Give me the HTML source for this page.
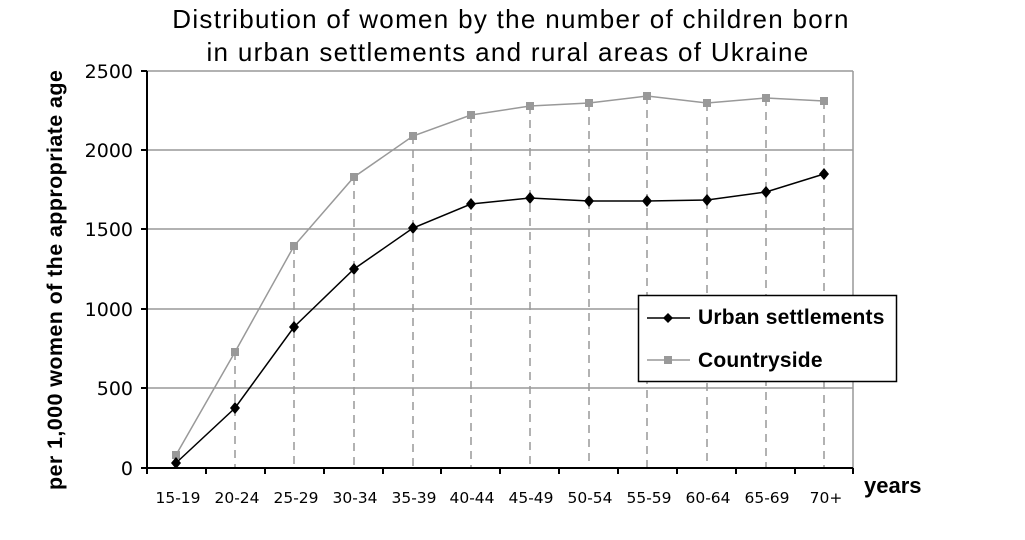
<!DOCTYPE html>
<html><head><meta charset="utf-8"><style>body{margin:0;background:#fff}svg{display:block}</style></head>
<body>
<svg width="1025" height="540" xmlns="http://www.w3.org/2000/svg" font-family="Liberation Sans, sans-serif">
<rect width="1025" height="540" fill="#fff"/>
<text x="511" y="28" font-size="26" letter-spacing="1.3" text-anchor="middle">Distribution of women by the number of children born</text>
<text x="508" y="61" font-size="26" letter-spacing="1.3" text-anchor="middle">in urban settlements and rural areas of Ukraine</text>
<g stroke="#999" stroke-width="1.5">
<line x1="147" y1="71" x2="853" y2="71"/>
<line x1="147" y1="150" x2="853" y2="150"/>
<line x1="147" y1="229" x2="853" y2="229"/>
<line x1="147" y1="309" x2="853" y2="309"/>
<line x1="147" y1="388" x2="853" y2="388"/>
<line x1="853" y1="71" x2="853" y2="468"/>
</g>
<g stroke="#999" stroke-width="1.5" stroke-dasharray="8,6">
<line x1="235" y1="352" x2="235" y2="468"/>
<line x1="294" y1="246" x2="294" y2="468"/>
<line x1="354" y1="177" x2="354" y2="468"/>
<line x1="413" y1="136" x2="413" y2="468"/>
<line x1="471" y1="115" x2="471" y2="468"/>
<line x1="530" y1="106" x2="530" y2="468"/>
<line x1="589" y1="103" x2="589" y2="468"/>
<line x1="647" y1="96" x2="647" y2="468"/>
<line x1="707" y1="103" x2="707" y2="468"/>
<line x1="766" y1="98" x2="766" y2="468"/>
<line x1="824" y1="101" x2="824" y2="468"/>
</g>
<g stroke="#000" stroke-width="2">
<line x1="147" y1="71" x2="147" y2="474"/>
<line x1="141" y1="468" x2="853" y2="468"/>
<line x1="141" y1="71" x2="147" y2="71"/><line x1="141" y1="150" x2="147" y2="150"/><line x1="141" y1="229" x2="147" y2="229"/><line x1="141" y1="309" x2="147" y2="309"/><line x1="141" y1="388" x2="147" y2="388"/>
<line x1="206" y1="468" x2="206" y2="474"/><line x1="265" y1="468" x2="265" y2="474"/><line x1="324" y1="468" x2="324" y2="474"/><line x1="383" y1="468" x2="383" y2="474"/><line x1="441" y1="468" x2="441" y2="474"/><line x1="500" y1="468" x2="500" y2="474"/><line x1="559" y1="468" x2="559" y2="474"/><line x1="618" y1="468" x2="618" y2="474"/><line x1="677" y1="468" x2="677" y2="474"/><line x1="736" y1="468" x2="736" y2="474"/><line x1="795" y1="468" x2="795" y2="474"/><line x1="853" y1="468" x2="853" y2="474"/>
</g>
<g font-size="19" font-family="DejaVu Sans, sans-serif" text-anchor="end">
<text x="133" y="78">2500</text><text x="133" y="157">2000</text><text x="133" y="236">1500</text><text x="133" y="316">1000</text><text x="133" y="395">500</text><text x="133" y="475">0</text>
</g>
<g font-size="15.5" font-family="DejaVu Sans, sans-serif" text-anchor="middle">
<text x="178" y="503">15-19</text><text x="237" y="503">20-24</text><text x="296" y="503">25-29</text><text x="355" y="503">30-34</text><text x="414" y="503">35-39</text><text x="472" y="503">40-44</text><text x="531" y="503">45-49</text><text x="590" y="503">50-54</text><text x="649" y="503">55-59</text><text x="708" y="503">60-64</text><text x="767" y="503">65-69</text><text x="826" y="503">70+</text>
</g>
<text x="864" y="493" font-size="22" font-weight="bold">years</text>
<text transform="translate(62,490) rotate(-90)" font-size="21.5" font-weight="bold" letter-spacing="0.4">per 1,000 women of the appropriate age</text>
<polyline fill="none" stroke="#999" stroke-width="1.5" points="176,455 235,352 294,246 354,177 413,136 471,115 530,106 589,103 647,96 707,103 766,98 824,101"/>
<g fill="#999">
<rect x="172" y="451" width="8" height="8"/><rect x="231" y="348" width="8" height="8"/><rect x="290" y="242" width="8" height="8"/><rect x="350" y="173" width="8" height="8"/><rect x="409" y="132" width="8" height="8"/><rect x="467" y="111" width="8" height="8"/><rect x="526" y="102" width="8" height="8"/><rect x="585" y="99" width="8" height="8"/><rect x="643" y="92" width="8" height="8"/><rect x="703" y="99" width="8" height="8"/><rect x="762" y="94" width="8" height="8"/><rect x="820" y="97" width="8" height="8"/>
</g>
<polyline fill="none" stroke="#000" stroke-width="1.5" points="176,463 235,408 294,327 354,269 413,228 471,204 530,198 589,201 647,201 707,200 766,192 824,174"/>
<g fill="#000">
<path d="M176,457l5,6l-5,6l-5,-6z"/><path d="M235,402l5,6l-5,6l-5,-6z"/><path d="M294,321l5,6l-5,6l-5,-6z"/><path d="M354,263l5,6l-5,6l-5,-6z"/><path d="M413,222l5,6l-5,6l-5,-6z"/><path d="M471,198l5,6l-5,6l-5,-6z"/><path d="M530,192l5,6l-5,6l-5,-6z"/><path d="M589,195l5,6l-5,6l-5,-6z"/><path d="M647,195l5,6l-5,6l-5,-6z"/><path d="M707,194l5,6l-5,6l-5,-6z"/><path d="M766,186l5,6l-5,6l-5,-6z"/><path d="M824,168l5,6l-5,6l-5,-6z"/>
</g>
<rect x="638.5" y="295.5" width="258" height="86" fill="#fff" stroke="#000" stroke-width="1.5"/>
<line x1="647" y1="318" x2="690" y2="318" stroke="#000" stroke-width="1.5"/>
<path d="M668,313l5,5l-5,5l-5,-5z" fill="#000"/>
<line x1="647" y1="360" x2="690" y2="360" stroke="#999" stroke-width="1.5"/>
<rect x="664" y="356" width="8" height="8" fill="#999"/>
<text x="698" y="324" font-size="21" font-weight="bold" letter-spacing="0.2">Urban settlements</text>
<text x="698" y="367" font-size="21" font-weight="bold" letter-spacing="0.2">Countryside</text>
</svg>
</body></html>
